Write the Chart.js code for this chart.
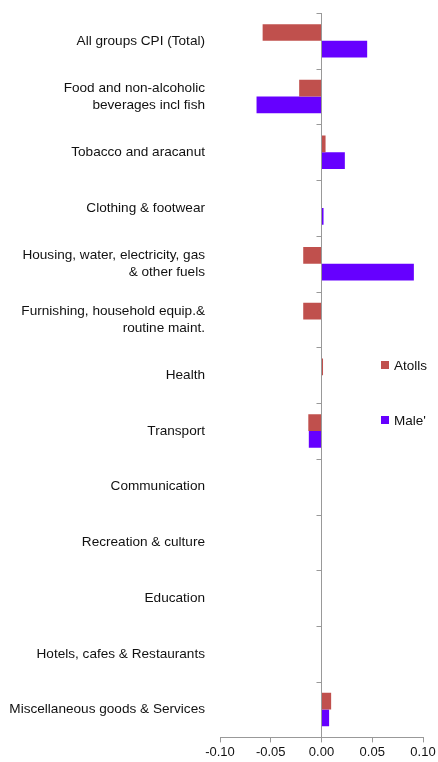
<!DOCTYPE html>
<html lang="en">
<head>
  <meta charset="UTF-8" />
  <title>CPI contribution - Atolls vs Male'</title>
  <script src="https://cdn.jsdelivr.net/npm/chart.js"></script>
  <style>
    body {
      margin: 0;
      background: #fff;
      font-family: "Liberation Sans", Arial, sans-serif;
    }
    .wrap {
      position: relative;
      width: 438px;
      height: 762px;
    }
    .legend {
      position: absolute;
      left: 381px;
      top: 355px;
      font-size: 13.5px;
      color: #111;
    }
    .legend div {
      display: flex;
      align-items: center;
      height: 20px;
      margin-bottom: 35px;
    }
    .legend span.box {
      width: 8px;
      height: 8px;
      margin-right: 5px;
    }
  </style>
</head>
<body>
  <div class="wrap">
    <canvas id="cpiChart" width="438" height="762"></canvas>
    <div class="legend" id="legend"></div>
  </div>

  <script>
    const categories = [
      'All groups CPI (Total)',
      ['Food and non-alcoholic', 'beverages incl fish'],
      'Tobacco and aracanut',
      'Clothing & footwear',
      ['Housing, water, electricity, gas', '& other fuels'],
      ['Furnishing, household equip.&', 'routine maint.'],
      'Health',
      'Transport',
      'Communication',
      'Recreation & culture',
      'Education',
      'Hotels, cafes & Restaurants',
      'Miscellaneous goods & Services'
    ];
    const atolls = [-0.058, -0.022, 0.004, 0, -0.018, -0.018, 0.0015, -0.013, 0, 0, 0, 0, 0.0095];
    const male = [0.045, -0.064, 0.023, 0.002, 0.091, 0, 0, -0.0125, 0, 0, 0, 0, 0.0075];
    const xTicks = [-0.10, -0.05, 0.00, 0.05, 0.10];

    const seriesColors = { atolls: '#C0504D', male: '#6600FF' };

    // little tick marks on the category axis, drawn at the zero line like Excel does
    const zeroAxisTicks = {
      id: 'zeroAxisTicks',
      afterDatasetsDraw(chart) {
        const x = chart.scales.x, y = chart.scales.y;
        const x0 = x.getPixelForValue(0);
        const ctx = chart.ctx;
        const n = categories.length;
        ctx.save();
        ctx.strokeStyle = '#999';
        ctx.lineWidth = 1;
        ctx.beginPath();
        for (let i = 0; i <= n; i++) {
          let py;
          if (i === 0) py = chart.chartArea.top;
          else if (i === n) py = chart.chartArea.bottom;
          else py = (y.getPixelForValue(i - 1) + y.getPixelForValue(i)) / 2;
          py = Math.round(py) + 0.5;
          ctx.moveTo(x0 - 5, py);
          ctx.lineTo(x0, py);
        }
        ctx.stroke();
        ctx.restore();
      }
    };

    const ctx = document.getElementById('cpiChart').getContext('2d');
    new Chart(ctx, {
      type: 'bar',
      data: {
        labels: categories,
        datasets: [
          { label: 'Atolls', data: atolls, backgroundColor: seriesColors.atolls },
          { label: "Male'", data: male, backgroundColor: seriesColors.male }
        ]
      },
      options: {
        indexAxis: 'y',
        responsive: false,
        animation: false,
        layout: { padding: { top: 13, right: 15, bottom: 0, left: 0 } },
        datasets: {
          bar: { categoryPercentage: 0.6, barPercentage: 1.0 }
        },
        plugins: {
          legend: { display: false },
          tooltip: { enabled: false }
        },
        scales: {
          x: {
            min: -0.10,
            max: 0.10,
            afterBuildTicks(scale) {
              scale.ticks = xTicks.map(v => ({ value: v }));
            },
            ticks: {
              color: '#111',
              font: { family: 'Liberation Sans', size: 13 },
              padding: 2,
              maxRotation: 0,
              callback: v => Number(v).toFixed(2)
            },
            grid: {
              color: c => (c.tick && Math.abs(c.tick.value) < 1e-9) ? '#999' : 'rgba(0,0,0,0)',
              tickColor: '#999',
              tickLength: 5,
              drawOnChartArea: true
            },
            border: { display: true, color: '#999' }
          },
          y: {
            afterFit(scale) {
              scale.width = 220;
              scale.paddingTop = 0;
              scale.paddingBottom = 0;
            },
            ticks: {
              color: '#111',
              font: { family: 'Liberation Sans', size: 13.6, lineHeight: 1.25 },
              padding: 7,
              autoSkip: false
            },
            grid: { display: false },
            border: { display: false }
          }
        }
      },
      plugins: [zeroAxisTicks]
    });

    const legendEl = document.getElementById('legend');
    [['Atolls', seriesColors.atolls], ["Male'", seriesColors.male]].forEach(([name, col]) => {
      const row = document.createElement('div');
      row.innerHTML = `<span class="box" style="background:${col}"></span>${name}`;
      legendEl.appendChild(row);
    });
  </script>
</body>
</html>
